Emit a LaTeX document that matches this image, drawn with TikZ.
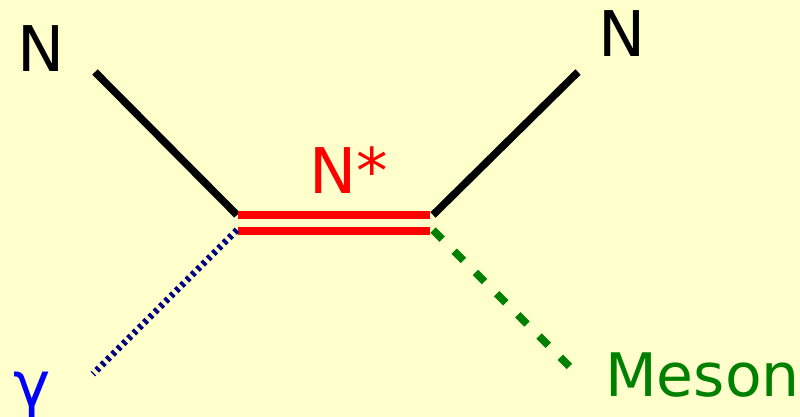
\documentclass[tikz,border=0pt]{standalone}
\usepackage{fontspec}
\setmainfont{DejaVu Sans}
\definecolor{bgyellow}{HTML}{FFFFCC}
\definecolor{navyblue}{HTML}{000080}
\definecolor{mesongreen}{HTML}{008000}
\begin{document}
\begin{tikzpicture}[x=1pt,y=-1pt,
  lbl/.style={inner sep=0pt,font=\fontsize{63}{63}\selectfont},
  fermion/.style={line width=7.5pt,black},
  resonance/.style={line width=8pt,red},
  photon/.style={line width=6.5pt,navyblue,dash pattern=on 3.5pt off 4pt},
  meson/.style={line width=7.5pt,mesongreen,dash pattern=on 13pt off 17pt}]
\fill[bgyellow] (0,0) rectangle (800,417);
\useasboundingbox (0,0) rectangle (800,417);
% labels
\node[lbl,anchor=base] (nin) at (41,72) {N};
\node[lbl,anchor=base] (nout) at (622,57) {N};
\node[lbl,anchor=base west,red] (nstar) at (309,193) {N*};
\node[lbl,anchor=base,blue] (gam) at (32,406) {γ};
\node[lbl,anchor=base west,mesongreen,font=\fontsize{60}{60}\selectfont] (mes) at (605,396) {Meson};
% coordinates
\coordinate (a1) at (95,72);
\coordinate (a2) at (237,215);
\coordinate (b1) at (433,215);
\coordinate (b2) at (578,72);
\coordinate (r1) at (238,215);
\coordinate (r2) at (430,215);
\coordinate (r3) at (238,230.5);
\coordinate (r4) at (430,230.5);
\coordinate (g1) at (237,230);
\coordinate (g2) at (93,374);
\coordinate (m1) at (433,230);
\coordinate (m2) at (575,372);
% lines
\draw[fermion] (a1) -- (a2);
\draw[fermion] (b1) -- (b2);
\draw[resonance] (r1) -- (r2);
\draw[resonance] (r3) -- (r4);
\draw[photon] (g1) -- (g2);
\draw[meson] (m1) -- (m2);
\end{tikzpicture}
\end{document}
